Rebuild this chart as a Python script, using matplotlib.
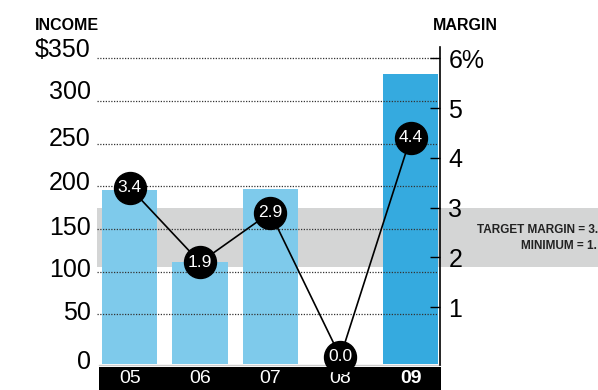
import matplotlib
matplotlib.use("Agg")
import matplotlib.pyplot as plt
from matplotlib.patches import Rectangle
from matplotlib.transforms import blended_transform_factory, ScaledTranslation

years = ['05', '06', '07', '08', '09']
income = [196, 111, 197, 0, 332]
margin = [3.4, 1.9, 2.9, 0.0, 4.4]
income_ticks = [0, 50, 100, 150, 200, 250, 300, 350]
income_tick_labels = ['0', '50', '100', '150', '200', '250', '300', '$350']
margin_ticks = [1, 2, 3, 4, 5, 6]
margin_tick_labels = ['1', '2', '3', '4', '5', '6%']
target_margin = 3.0
minimum_margin = 1.8

plt.rcParams['font.family'] = ['Liberation Sans', 'DejaVu Sans']

W, H = 598, 390
fig = plt.figure(figsize=(W / 100, H / 100), dpi=100)
left, right, top, bottom = 99, 440, 47, 365
ax = fig.add_axes([left / W, (H - bottom) / H, (right - left) / W, (bottom - top) / H])
ax2 = ax.twinx()

ylo, yhi = -9.4, 363.2
ax.set_ylim(ylo, yhi)
ax2.set_ylim(ylo * 6 / 350, yhi * 6 / 350)
ax.set_xlim(-0.44, 4.42)

light = '#7ECAEB'
dark = '#35AADF'
colors = [light] * 4 + [dark]
x = list(range(len(years)))
base = -8.2  # bars start slightly below the zero line, at the base strip
heights = [(v - base) if v > 0 else 0 for v in income]
ax.bar(x, heights, bottom=base, width=0.786, color=colors, zorder=1)

# gridlines (dotted, over bars)
gtrans = ax.get_yaxis_transform()
for t in income_ticks[1:]:
    ax.plot([-0.006, 0.995], [t, t], transform=gtrans, color='#333333',
            lw=0.9, ls=(0, (1, 1.2)), zorder=2, clip_on=False)

# grey target band extending to figure right
btrans = blended_transform_factory(fig.transFigure, ax2.transData)
band = Rectangle((97 / W, minimum_margin), 1 - 97 / W, target_margin - minimum_margin,
                 transform=btrans, color='#D4D5D5', zorder=0.5, clip_on=False, lw=0)
ax.add_patch(band)

# left tick labels (as text, with small vertical offsets as in the original)
ax.set_yticks([])
ax.set_xticks([])
label_dy_px = [-4.7, 1.3, 1.5, 1.0, 3.0, 5.0, 8.5, 8.3]
for t, lab, dy in zip(income_ticks, income_tick_labels, label_dy_px):
    tr = ax.get_yaxis_transform() + ScaledTranslation(-8 / 100, dy / 100, fig.dpi_scale_trans)
    ax.text(0, t, lab, transform=tr, ha='right', va='center', fontsize=18, clip_on=False)
for s in ['left', 'top', 'right']:
    ax.spines[s].set_visible(False)
ax.spines['bottom'].set_color('#cccccc')
ax.spines['bottom'].set_linewidth(1)

# black band with year labels
ax.add_patch(Rectangle((0, -0.08), 1.003, 0.074, transform=ax.transAxes,
                       color='black', clip_on=False, zorder=3, lw=0))
ltrans = blended_transform_factory(ax.transData, ax.transAxes)
for i, yr in enumerate(years):
    ax.text(i, -0.042, yr, transform=ltrans, ha='center', va='center',
            color='white', fontsize=14,
            fontweight='bold' if i == len(years) - 1 else 'normal', zorder=4)

# right axis
ax2.set_yticks(margin_ticks)
ax2.set_yticklabels(margin_tick_labels)
ax2.tick_params(axis='y', direction='in', length=7, width=1, labelsize=18, pad=6, color='black')
for s in ['left', 'top', 'bottom']:
    ax2.spines[s].set_visible(False)
ax2.spines['right'].set_linewidth(1.2)

# margin line with circles
ax2.plot(x, margin, color='black', lw=1.2, zorder=5, clip_on=False)
ax2.plot(x, margin, 'o', color='black', markersize=23, zorder=6, clip_on=False)
for xi, m in zip(x, margin):
    ax2.text(xi, m, f'{m:.1f}', ha='center', va='center', color='white',
             fontsize=12.5, zorder=7)

# titles
fig.text(35 / W, 1 - 26 / H, 'INCOME', ha='left', va='center', fontsize=11.5, fontweight='bold')
fig.text(433 / W, 1 - 25 / H, 'MARGIN', ha='left', va='center', fontsize=11.5, fontweight='bold')
fig.text(598 / W, 1 - 230 / H, 'TARGET MARGIN = 3.', ha='right', va='center', fontsize=8.5, fontweight='bold', color='#222222')
fig.text(597 / W, 1 - 246 / H, 'MINIMUM = 1.', ha='right', va='center', fontsize=8.5, fontweight='bold', color='#222222')

fig.savefig('out.png', dpi=100)
